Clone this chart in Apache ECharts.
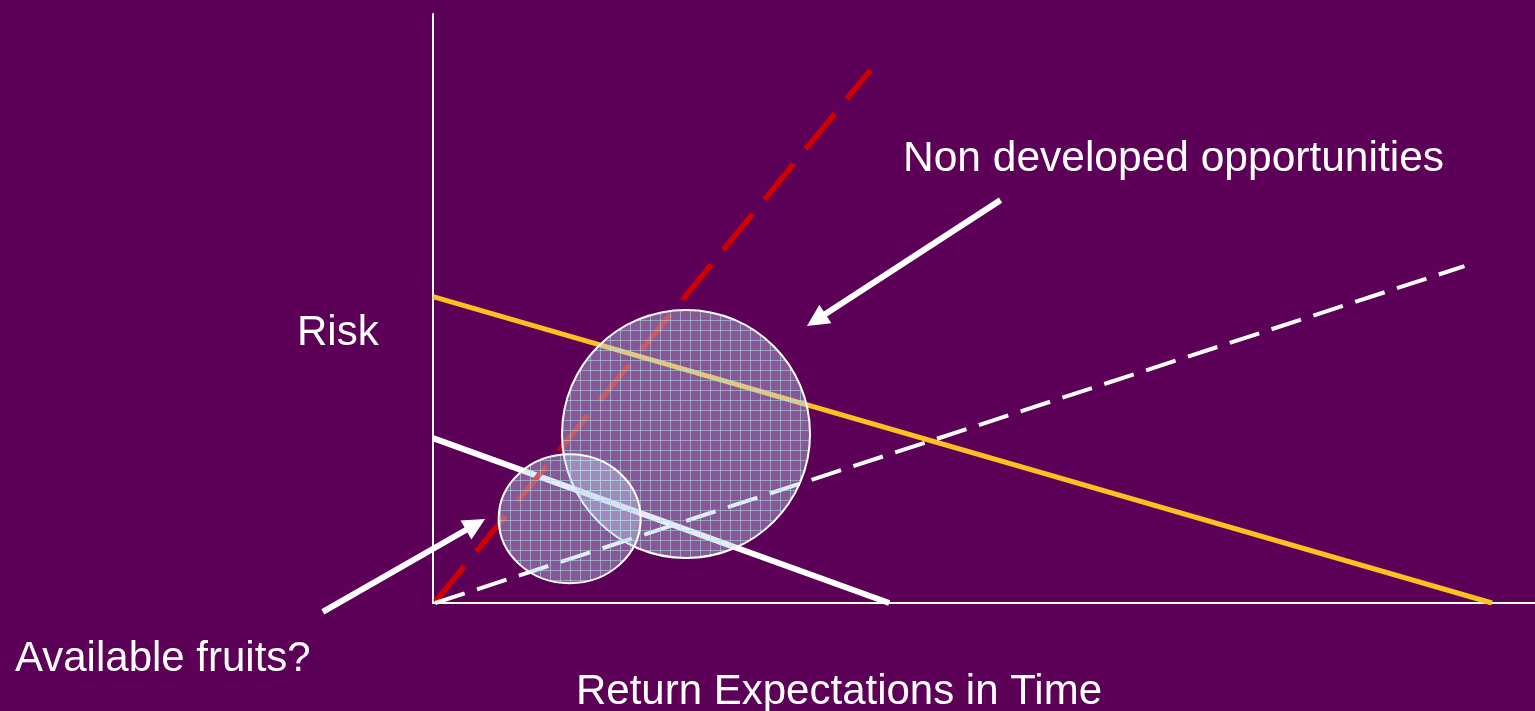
<!DOCTYPE html>
<html>
<head>
<meta charset="utf-8">
<script src="https://cdn.jsdelivr.net/npm/echarts@6/dist/echarts.min.js"></script>
<style>
html,body{margin:0;padding:0;background:#5c0058;}
#chart{width:1535px;height:711px;}
</style>
</head>
<body>
<div id="chart"></div>
<script>
// Data (abstract units: x 0..100, y 0..100)
var yellowLine = [[0, 52.0], [96.1, 0]];
var whiteSolidLine = [[0, 28.0], [41.4, 0]];
var redDashedLine = [[0.2, 0.2], [39.7, 90.5]];
var whiteDashedLine = [[0.2, 0], [93.6, 57.2]];
var bubbleNames = ['Non developed opportunities', 'Available fruits?'];
var bubbleX = [22.96, 12.4];
var bubbleY = [28.7, 14.3];
var arrows = [
  [[51.5, 68.4], [34.77, 48.05]],
  [[-10.0, -1.5], [3.86, 13.33]]
];
var labels = {
  x: 'Return Expectations in Time',
  y: 'Risk',
  big: 'Non developed opportunities',
  small: 'Available fruits?'
};

// pattern for bubbles
var pc = document.createElement('canvas');
pc.width = 10; pc.height = 10;
var g = pc.getContext('2d');
g.fillStyle = 'rgba(200,205,238,0.42)';
g.fillRect(0, 0, 10, 10);
g.fillStyle = 'rgba(170,228,228,0.55)';
g.fillRect(0, 0, 10, 1);
g.fillRect(0, 0, 1, 10);

var chart = echarts.init(document.getElementById('chart'));
var font = '"Liberation Sans", Arial, sans-serif';
var bubbleRadii = [[124, 124], [71, 64.5]];

chart.setOption({
  backgroundColor: '#5c0058',
  animation: false,
  grid: {left: 433, right: 0, top: 14, bottom: 108},
  xAxis: {
    type: 'value', min: 0, max: 100,
    axisLine: {show: true, lineStyle: {color: '#ffffff', width: 2}},
    axisTick: {show: false}, axisLabel: {show: false}, splitLine: {show: false}
  },
  yAxis: {
    type: 'value', min: 0, max: 100,
    axisLine: {show: true, lineStyle: {color: '#ffffff', width: 2}},
    axisTick: {show: false}, axisLabel: {show: false}, splitLine: {show: false}
  },
  series: [
    {type: 'line', data: yellowLine, symbol: 'none', z: 2,
     lineStyle: {color: '#ffc020', width: 5}},
    {type: 'line', data: whiteSolidLine, symbol: 'none', z: 2,
     lineStyle: {color: '#ffffff', width: 6}},
    {type: 'line', data: redDashedLine, symbol: 'none', z: 2,
     lineStyle: {color: '#d00000', width: 5.5, type: [46, 19]}},
    {type: 'line', data: whiteDashedLine, symbol: 'none', z: 2,
     lineStyle: {color: '#ffffff', width: 4, type: [31, 13]}},
    {type: 'custom', z: 5,
     data: bubbleNames.map(function (n, i) {
       return {name: n, value: [bubbleX[i], bubbleY[i], i]};
     }),
     renderItem: function (params, api) {
       var c = api.coord([api.value(0), api.value(1)]);
       var r = bubbleRadii[api.value(2)];
       return {
         type: 'ellipse',
         shape: {cx: c[0], cy: c[1], rx: r[0], ry: r[1]},
         style: {fill: {image: pc, repeat: 'repeat'}, stroke: '#ffffff', lineWidth: 2}
       };
     }},
    {type: 'lines', coordinateSystem: 'cartesian2d', z: 6, clip: false,
     data: arrows.map(function (a) { return {coords: a}; }),
     symbol: ['none', 'triangle'], symbolSize: 22,
     lineStyle: {color: '#ffffff', width: 6, opacity: 1}}
  ],
  graphic: [
    {type: 'text', x: 297, y: 333, style: {text: labels.y, fill: '#ffffff', font: '42px ' + font, textAlign: 'left', textVerticalAlign: 'middle', verticalAlign: 'middle'}},
    {type: 'text', x: 903, y: 159, style: {text: labels.big, fill: '#ffffff', font: '42.5px ' + font, textAlign: 'left', textVerticalAlign: 'middle', verticalAlign: 'middle'}},
    {type: 'text', x: 15, y: 659, style: {text: labels.small, fill: '#ffffff', font: '42px ' + font, textAlign: 'left', textVerticalAlign: 'middle', verticalAlign: 'middle'}},
    {type: 'text', x: 839, y: 692, style: {text: labels.x, fill: '#ffffff', font: '42px ' + font, textAlign: 'center', textVerticalAlign: 'middle', verticalAlign: 'middle'}}
  ]
});
</script>
</body>
</html>
